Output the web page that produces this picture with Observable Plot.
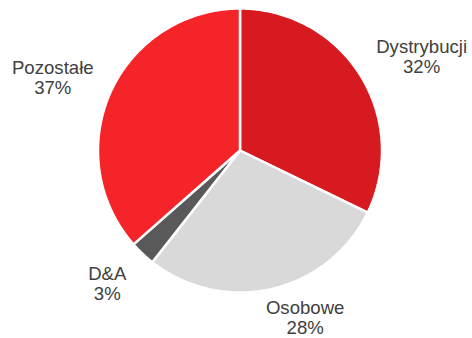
<!DOCTYPE html>
<html>
<head>
<meta charset="utf-8">
<script src="https://cdn.jsdelivr.net/npm/d3@7"></script>
<script src="https://cdn.jsdelivr.net/npm/@observablehq/plot@0.6"></script>
<style>
  html, body { margin: 0; padding: 0; background: #fff; }
  #chart svg { display: block; }
</style>
</head>
<body>
<div id="chart"></div>
<script>
const categories = ["Dystrybucji", "Osobowe", "D&A", "Pozostałe"];
const values = [32.2, 28.4, 2.9, 36.5];
const percentLabels = ["32%", "28%", "3%", "37%"];
const colors = ["#d71920", "#d9d9d9", "#595959", "#f42428"];

// layout
const W = 472, H = 338;
const cx = 239.5, cy = 150, R = 142;
const labelDist = [1.44, 1.26, 1.325, 1.415];    // label distance in radii
const labelNudge = [4.7, -8.4, 1.5, -3];          // degrees added to mid-angle

const arcs = d3.pie().sort(null).value((d, i) => values[i])(categories);

const slicePoints = [];
arcs.forEach((a, i) => {
  const cat = categories[i];
  slicePoints.push({cat, x: 0, y: 0});
  const n = Math.max(4, Math.ceil((a.endAngle - a.startAngle) / (Math.PI / 180)));
  for (let k = 0; k <= n; k++) {
    const t = a.startAngle + (a.endAngle - a.startAngle) * k / n;
    slicePoints.push({cat, x: Math.sin(t), y: -Math.cos(t)});
  }
  slicePoints.push({cat, x: 0, y: 0});
});

const labelData = arcs.map((a, i) => {
  const m = (a.startAngle + a.endAngle) / 2 + labelNudge[i] * Math.PI / 180;
  return {
    cat: categories[i],
    text: categories[i] + "\n" + percentLabels[i],
    x: Math.sin(m) * labelDist[i],
    y: -Math.cos(m) * labelDist[i]
  };
});

const chart = Plot.plot({
  width: W,
  height: H,
  margin: 0,
  style: {background: "#fff", fontFamily: "'Liberation Sans', Arial, sans-serif"},
  x: {type: "linear", domain: [-cx / R, (W - cx) / R], range: [0, W], axis: null},
  y: {type: "linear", domain: [-cy / R, (H - cy) / R], range: [0, H], axis: null},
  color: {domain: categories, range: colors},
  marks: [
    Plot.line(slicePoints, {
      x: "x", y: "y", z: "cat", fill: "cat",
      stroke: "#fff", strokeWidth: 2.5, strokeLinejoin: "miter", curve: "linear"
    }),
    Plot.text(labelData, {
      x: "x", y: "y", text: "text",
      fontSize: 18.6, fill: "#404040", lineHeight: 1.08, textAnchor: "middle"
    })
  ]
});
document.getElementById("chart").appendChild(chart);
</script>
</body>
</html>
